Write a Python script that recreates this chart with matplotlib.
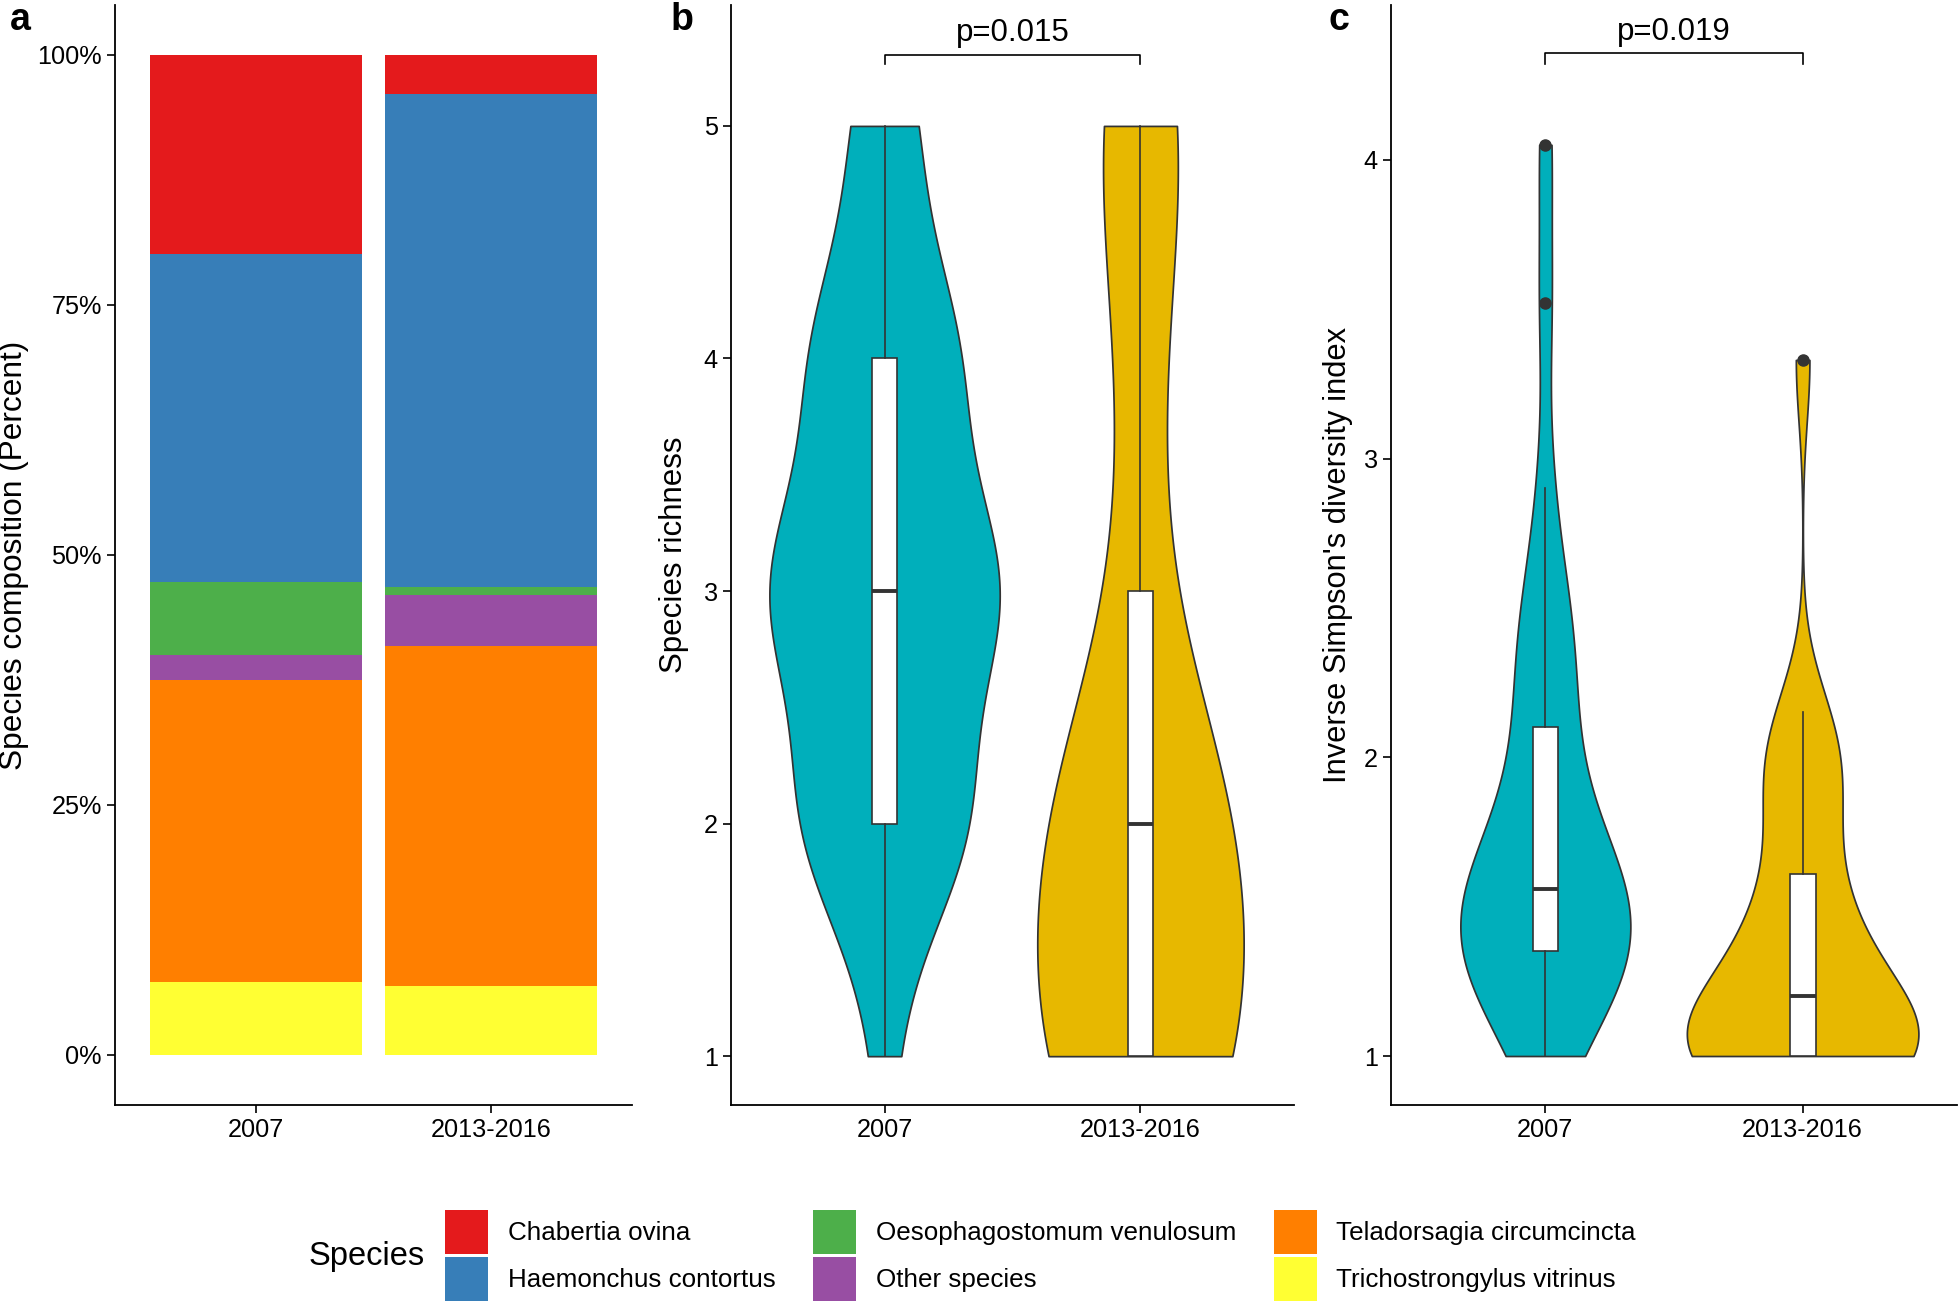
import numpy as np
import matplotlib
matplotlib.use("Agg")
import matplotlib.pyplot as plt
from matplotlib.patches import Patch

plt.rcParams['font.family'] = ['Liberation Sans', 'DejaVu Sans']

# ---- data ----
periods = ["2007", "2013-2016"]
species = ["Chabertia ovina", "Haemonchus contortus", "Oesophagostomum venulosum",
           "Other species", "Teladorsagia circumcincta", "Trichostrongylus vitrinus"]
comp_2007 = [19.9, 32.8, 7.3, 2.5, 30.2, 7.3]          # percent, same order as species
comp_2013 = [3.9, 49.3, 0.8, 5.1, 34.0, 6.9]

richness_values = [1, 2, 3, 4, 5]
richness_n_2007 = [1, 8, 11, 7, 3]                     # samples per richness level
richness_n_2013 = [11, 10, 2, 2, 5]

invsimpson_2007 = [1.00, 1.08, 1.15, 1.20, 1.25, 1.29, 1.33, 1.35, 1.35, 1.39,
                   1.42, 1.46, 1.50, 1.53, 1.55, 1.57, 1.62, 1.68, 1.74, 1.80,
                   1.90, 2.10, 2.10, 2.28, 2.38, 2.47, 2.56, 2.90, 3.52, 4.05]
invsimpson_2013 = [1.00, 1.00, 1.00, 1.00, 1.00, 1.00, 1.00, 1.00, 1.00, 1.00,
                   1.00, 1.03, 1.07, 1.11, 1.16, 1.24, 1.27, 1.31, 1.35, 1.40,
                   1.46, 1.58, 1.62, 1.80, 1.88, 1.95, 2.01, 2.07, 2.15, 3.33]

p_richness = "p=0.015"
p_invsimpson = "p=0.019"

# ---- style ----
species_colors = ["#E41A1C", "#377EB8", "#4DAF4A", "#984EA3", "#FF7F00", "#FFFF33"]
period_colors = ["#00AFBB", "#E7B800"]
dark = "#333333"
W, H = 1960, 1302


def nrd0(x):
    # R's default bandwidth (Silverman's rule of thumb)
    sd = np.std(x, ddof=1)
    q75, q25 = np.percentile(x, [75, 25])
    lo = min(sd, (q75 - q25) / 1.34) or sd
    return 0.9 * lo * len(x) ** -0.2


def style_axis(ax):
    for s in ("top", "right"):
        ax.spines[s].set_visible(False)
    for s in ("left", "bottom"):
        ax.spines[s].set_linewidth(1.3)
    ax.tick_params(labelsize=18.2, length=5.5, width=1.2, pad=4, colors="black")
    ax.set_xlim(0.4, 2.6)
    ax.set_xticks([1, 2])
    ax.set_xticklabels(periods)


def violins(ax, groups):
    dens = []
    for vals in groups:
        vals = np.asarray(vals, dtype=float)
        h = nrd0(vals)
        ys = np.linspace(vals.min(), vals.max(), 512)
        d = np.exp(-0.5 * ((ys[:, None] - vals[None, :]) / h) ** 2).sum(1) / (len(vals) * h * np.sqrt(2 * np.pi))
        dens.append((ys, d))
    top = max(d.max() for _, d in dens)
    for i, (ys, d) in enumerate(dens):
        half = 0.45 * d / top
        ax.fill_betweenx(ys, i + 1 - half, i + 1 + half, facecolor=period_colors[i],
                         edgecolor=dark, lw=1.25, zorder=1)
    ax.boxplot(groups, positions=[1, 2], widths=0.1, patch_artist=True, showcaps=False,
               manage_ticks=False, zorder=2,
               boxprops=dict(facecolor="white", edgecolor=dark, lw=1.2),
               whiskerprops=dict(color=dark, lw=1.2),
               medianprops=dict(color=dark, lw=2.8),
               flierprops=dict(marker="o", markerfacecolor=dark, markeredgecolor=dark, markersize=8))


def bracket(ax, y_end, y_bar, y_text, label):
    ax.plot([1, 1, 2, 2], [y_end, y_bar, y_bar, y_end], color="black", lw=1.2, clip_on=False)
    ax.text(1.5, y_text, label, ha="center", va="baseline", fontsize=22.5)


fig = plt.figure(figsize=(W / 100, H / 100), dpi=100)
bottom, height = 1 - 1105 / H, 1100 / H
ax_a = fig.add_axes([115 / W, bottom, 517 / W, height])
ax_b = fig.add_axes([731 / W, bottom, 563 / W, height])
ax_c = fig.add_axes([1391 / W, bottom, 566 / W, height])

# ---- a: stacked composition bars ----
base = np.zeros(2)
for k in reversed(range(len(species))):
    vals = np.array([comp_2007[k], comp_2013[k]])
    ax_a.bar([1, 2], vals, bottom=base, width=0.9, color=species_colors[k], lw=0)
    base += vals
style_axis(ax_a)
ax_a.set_ylim(-5, 105)
ax_a.set_yticks([0, 25, 50, 75, 100])
ax_a.set_yticklabels(["0%", "25%", "50%", "75%", "100%"])
ax_a.set_ylabel("Species composition (Percent)", fontsize=22.8)
ax_a.yaxis.set_label_coords(-0.167, 0.5)

# ---- b: species richness ----
rich_2007 = np.repeat(richness_values, richness_n_2007).astype(float)
rich_2013 = np.repeat(richness_values, richness_n_2013).astype(float)
violins(ax_b, [rich_2007, rich_2013])
style_axis(ax_b)
ax_b.set_ylim(0.79, 5.52)
ax_b.set_yticks([1, 2, 3, 4, 5])
ax_b.set_ylabel("Species richness", fontsize=22.5)
ax_b.yaxis.set_label_coords(-0.075, 0.5)
bracket(ax_b, 5.265, 5.307, 5.365, p_richness)

# ---- c: inverse Simpson ----
violins(ax_c, [invsimpson_2007, invsimpson_2013])
style_axis(ax_c)
ax_c.set_ylim(0.836, 4.518)
ax_c.set_yticks([1, 2, 3, 4])
ax_c.set_ylabel("Inverse Simpson's diversity index", fontsize=22.2)
ax_c.yaxis.set_label_coords(-0.068, 0.5)
bracket(ax_c, 4.319, 4.356, 4.401, p_invsimpson)

for x, lab in [(10, "a"), (671, "b"), (1329, "c")]:
    fig.text(x / W, 1 - 2 / H, lab, fontsize=27, fontweight="bold", va="top", ha="left")

# ---- legend ----
handles = [Patch(facecolor=c, edgecolor="none", label=s) for c, s in zip(species_colors, species)]
fig.legend(handles=handles, ncol=3, loc="center left", bbox_to_anchor=(445 / W, 1 - 1255.5 / H),
           frameon=False, fontsize=18.7, handlelength=1.66, handleheight=2.2, handletextpad=0.75,
           labelspacing=0.12, columnspacing=1.45, borderpad=0, borderaxespad=0)
fig.text(309 / W, 1 - 1257 / H, "Species", fontsize=23.5, va="center", ha="left")

fig.savefig("out.png", dpi=100)
